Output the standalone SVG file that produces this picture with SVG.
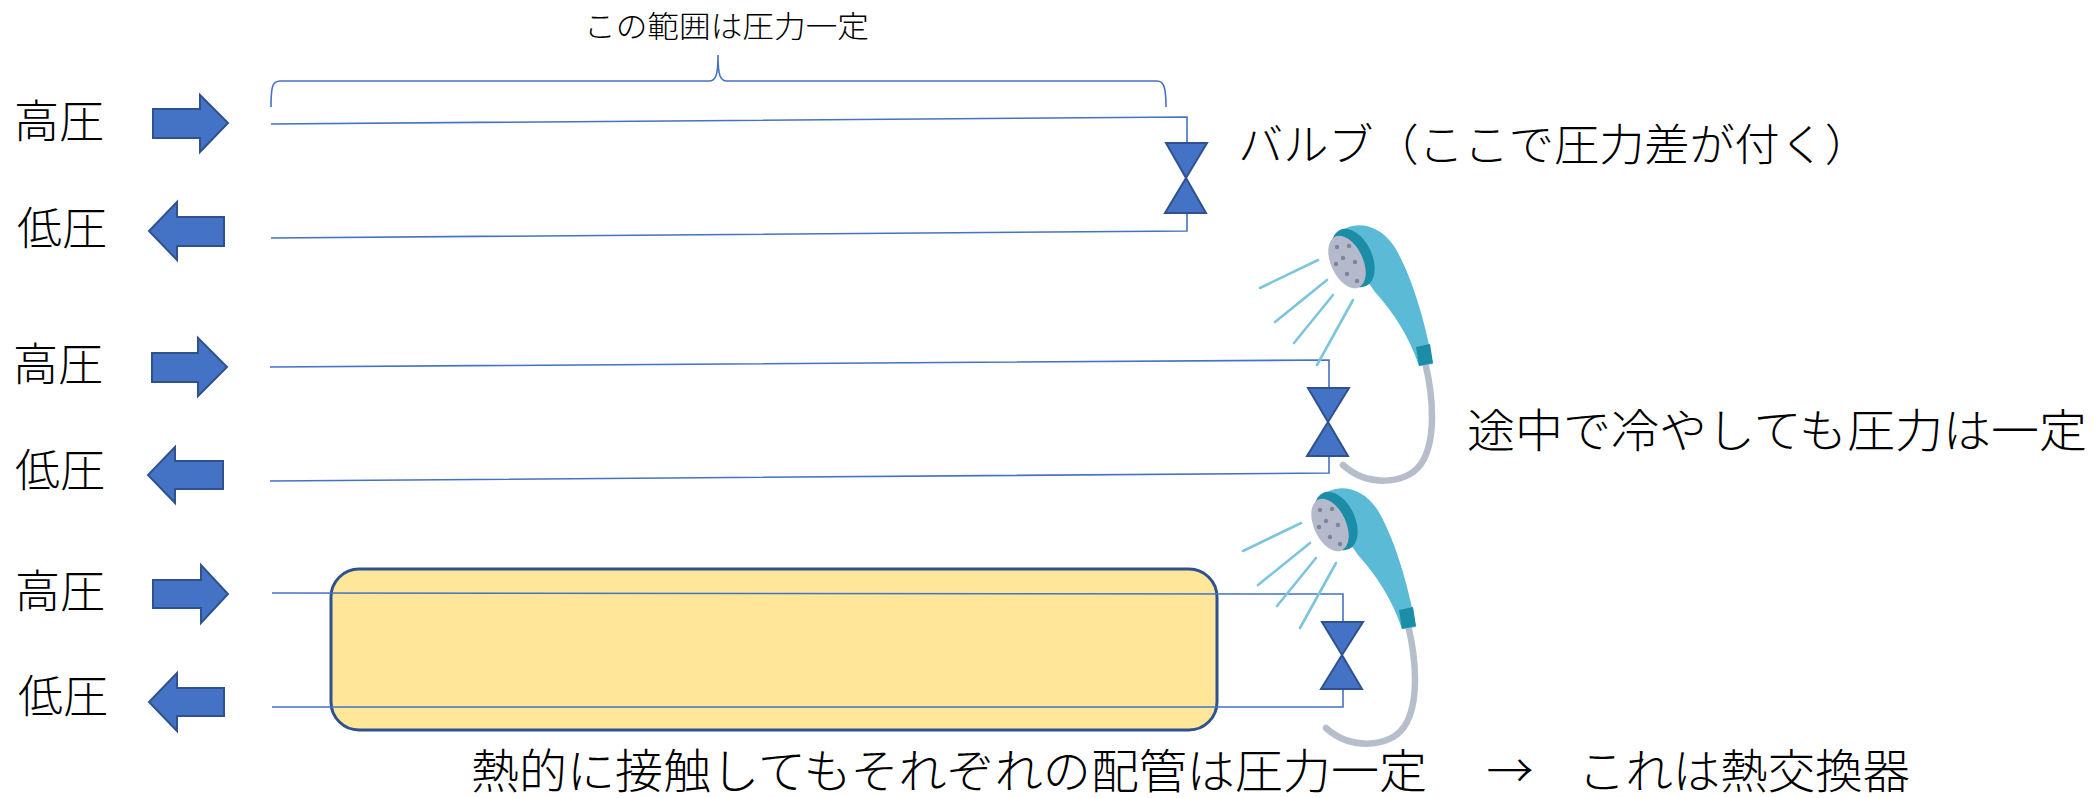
<svg xmlns="http://www.w3.org/2000/svg" xmlns:xlink="http://www.w3.org/1999/xlink" width="2098" height="798" viewBox="0 0 2098 798">
  <style>
    .lbl { font-family: "Noto Sans CJK JP", "Noto Sans CJK SC", sans-serif; font-weight: 300; fill: #000; }
    .pipe { fill: none; stroke: #4472C4; stroke-width: 1.6; }
    .blk { fill: #4472C4; stroke: #2F528F; stroke-width: 2; stroke-linejoin: miter; }
    .spray { stroke: #7CC5DD; stroke-width: 2.6; stroke-linecap: round; fill: none; }
  </style>
  <defs>
    <!-- hand shower illustration, drawn at the upper position -->
    <g id="shower">
      <path d="M1425,362 C1433,395 1437,440 1421,464 C1405,486 1366,486 1343,465" fill="none" stroke="#B7BECB" stroke-width="6.5" stroke-linecap="round"/>
      <path d="M1336,236 C1350,219 1378,222 1394,246 C1410,272 1424,316 1433,364 L1419,366 C1409,336 1394,313 1375,292 Z" fill="#5BBAD5"/>
      <path d="M1416,347 L1430,344 L1433,363 L1419,366 Z" fill="#1B8DA6"/>
      <ellipse cx="1353" cy="258" rx="19" ry="31" transform="rotate(-25 1353 258)" fill="#1B8DA6"/>
      <ellipse cx="1347" cy="262" rx="16" ry="28" transform="rotate(-25 1347 262)" fill="#B4B9CB"/>
      <g fill="#7E8598">
        <circle cx="1337" cy="247" r="2.2"/>
        <circle cx="1349" cy="246" r="2.2"/>
        <circle cx="1343" cy="258" r="2.2"/>
        <circle cx="1336" cy="264" r="2.2"/>
        <circle cx="1355" cy="262" r="2.2"/>
        <circle cx="1347" cy="274" r="2.2"/>
        <circle cx="1357" cy="281" r="2.2"/>
      </g>
      <line class="spray" x1="1260" y1="288" x2="1318" y2="260"/>
      <line class="spray" x1="1275" y1="322" x2="1327" y2="280"/>
      <line class="spray" x1="1294" y1="343" x2="1333" y2="295"/>
      <line class="spray" x1="1317" y1="365" x2="1353" y2="300"/>
    </g>
  </defs>

  <rect width="2098" height="798" fill="#FFFFFF"/>

  <!-- heat exchanger body -->
  <g id="exchanger">
    <rect x="331" y="569" width="886" height="161" rx="28" ry="28" fill="#FFE699" stroke="#2F528F" stroke-width="3"/>
  </g>

  <!-- piping and brace -->
  <g id="connectors">
    <path class="pipe" d="M271,124 L1187,117 L1187,143 M1187,213 L1187,231 L271,238"/>
    <path class="pipe" d="M270,367 L1329,360 L1329,388 M1329,456 L1329,473 L270,481"/>
    <path class="pipe" d="M272,593 L1343,594 L1343,622 M1343,689 L1343,707 L272,707"/>
    <path class="pipe" d="M271,107 C271,88 272,81 280,81 L709,81 C716,81 718,75 718,55 C718,75 720,81 727,81 L1157,81 C1164,81 1166,88 1166,107"/>
  </g>

  <!-- valves -->
  <g id="valve1"><path class="blk" d="M1166,143 L1207,143 L1186,178 L1206,213 L1165,213 L1186,178 Z"/></g>
  <g id="valve2"><path class="blk" d="M1308,388 L1349,388 L1328,422 L1348,456 L1307,456 L1328,422 Z"/></g>
  <g id="valve3"><path class="blk" d="M1322,622 L1363,622 L1342,655 L1362,689 L1321,689 L1342,655 Z"/></g>

  <!-- flow arrows -->
  <g id="arrow-in-1"><path class="blk" d="M153,109 L200,109 L200,95 L228,123 L200,152 L200,138 L153,138 Z"/></g>
  <g id="arrow-out-1"><path class="blk" d="M224,217 L177,217 L177,202 L149,231 L177,260 L177,246 L224,246 Z"/></g>
  <g id="arrow-in-2"><path class="blk" d="M152,353 L198,353 L198,338 L227,367 L198,396 L198,382 L152,382 Z"/></g>
  <g id="arrow-out-2"><path class="blk" d="M223,461 L175,461 L175,447 L148,475 L175,503 L175,489 L223,489 Z"/></g>
  <g id="arrow-in-3"><path class="blk" d="M153,580 L201,580 L201,565 L228,594 L201,623 L201,608 L153,608 Z"/></g>
  <g id="arrow-out-3"><path class="blk" d="M224,688 L177,688 L177,673 L149,702 L177,731 L177,716 L224,716 Z"/></g>

  <!-- showers -->
  <g id="shower1"><use xlink:href="#shower" href="#shower"/></g>
  <g id="shower2"><use xlink:href="#shower" href="#shower" transform="translate(-17,263)"/></g>

  <!-- labels -->
  <g id="labels">
    <text class="lbl" x="584" y="37" font-size="30" textLength="285" lengthAdjust="spacingAndGlyphs">この範囲は圧力一定</text>
    <text class="lbl" x="14" y="138" font-size="45">高圧</text>
    <text class="lbl" x="17" y="245" font-size="45">低圧</text>
    <text class="lbl" x="13" y="381" font-size="45">高圧</text>
    <text class="lbl" x="15" y="487" font-size="45">低圧</text>
    <text class="lbl" x="15" y="608" font-size="45">高圧</text>
    <text class="lbl" x="18" y="713" font-size="45">低圧</text>
    <text class="lbl" x="1238" y="161" font-size="44" textLength="632" lengthAdjust="spacingAndGlyphs">バルブ（ここで圧力差が付く）</text>
    <text class="lbl" x="1467" y="447" font-size="46" textLength="620" lengthAdjust="spacingAndGlyphs">途中で冷やしても圧力は一定</text>
    <text class="lbl" x="471" y="788" font-size="47" textLength="956" lengthAdjust="spacingAndGlyphs">熱的に接触してもそれぞれの配管は圧力一定</text>
    <text class="lbl" x="1510" y="788" font-size="47" text-anchor="middle">→</text>
    <text class="lbl" x="1578" y="788" font-size="47" textLength="332" lengthAdjust="spacingAndGlyphs">これは熱交換器</text>
  </g>
</svg>
